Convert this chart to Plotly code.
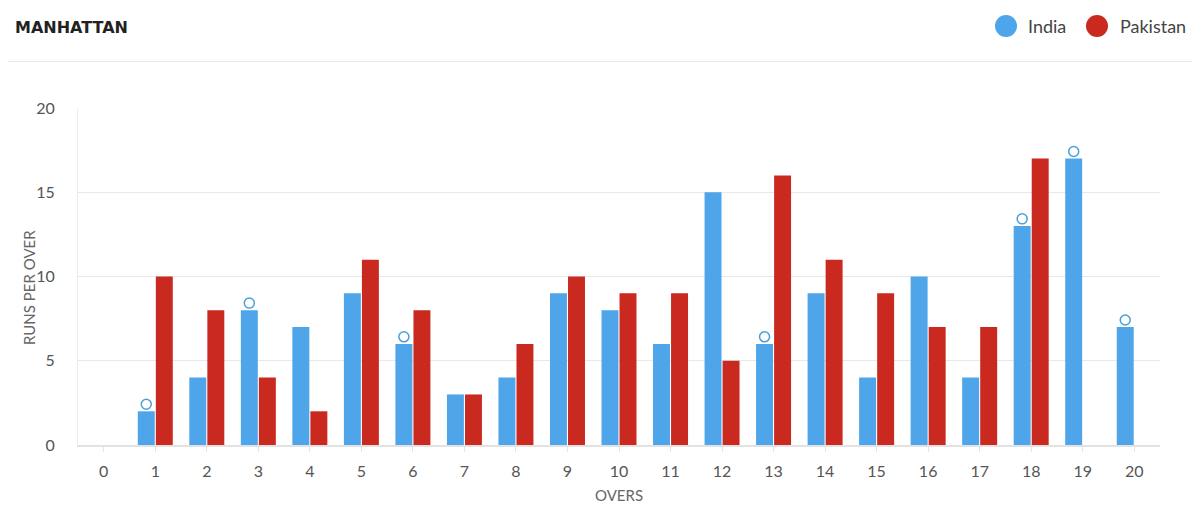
import plotly.graph_objects as go

overs = list(range(0, 21))
india_overs = list(range(1, 21))
india_runs = [2, 4, 8, 7, 9, 6, 3, 4, 9, 8, 6, 15, 6, 9, 4, 10, 4, 13, 17, 7]
pak_overs = list(range(1, 19))
pak_runs = [10, 8, 4, 2, 11, 8, 3, 6, 10, 9, 9, 5, 16, 11, 9, 7, 7, 17]
india_wicket_overs = [1, 3, 6, 13, 18, 19, 20]

BLUE = "#4ea5e9"
RED = "#c9291e"
FONT = "Lato, 'Open Sans', sans-serif"

# page has an 8px body margin; compensate
OFF = 8
W, H = 1200 - OFF, 517 - OFF
L, T = 78 - OFF, 108 - OFF
PW, PH = 1082, 337
R = W - L - PW
B = H - T - PH


def px(x):
    return (x - OFF - L) / PW


def py(y):
    return 1 - (y - OFF - T) / PH


bargap = 0.3
offset = (1 - bargap) / 4
w_x = [o - offset for o in india_wicket_overs]
w_y = [india_runs[india_overs.index(o)] + 0.42 for o in india_wicket_overs]

fig = go.Figure()
fig.add_trace(go.Bar(x=india_overs, y=india_runs, name="India",
                     marker=dict(color=BLUE, line=dict(width=0))))
fig.add_trace(go.Bar(x=pak_overs, y=pak_runs, name="Pakistan",
                     marker=dict(color=RED, line=dict(width=0))))
fig.add_trace(go.Scatter(x=w_x, y=w_y, mode="markers", showlegend=False,
                         marker=dict(symbol="circle-open", size=10,
                                     color="#4a9fd8", line=dict(width=1.5)),
                         hoverinfo="skip"))

fig.update_layout(
    width=W, height=H,
    margin=dict(l=L, r=R, t=T, b=B),
    paper_bgcolor="white", plot_bgcolor="white",
    barmode="group", bargap=bargap, bargroupgap=0.06,
    showlegend=False,
    font=dict(family=FONT, color="#555"),
    xaxis=dict(range=[-0.5, 20.5], tickmode="array", tickvals=overs,
               ticktext=[str(o) for o in overs],
               tickfont=dict(size=16, color="#555"),
               showgrid=False, zeroline=False,
               showline=True, linecolor="#e2e2e2", linewidth=1.5,
               ticks="outside", ticklen=5, tickcolor="#e6e6e6",
               ticklabelstandoff=6,
               title=dict(text="OVERS", font=dict(size=15, color="#666"), standoff=12)),
    yaxis=dict(range=[0, 20], tickvals=[0, 5, 10, 15, 20],
               tickfont=dict(size=16, color="#555"),
               showgrid=True, gridcolor="#e8e8e8", gridwidth=1,
               zeroline=False, showline=True, linecolor="#ececec", linewidth=1,
               ticks="outside", ticklen=19, tickcolor="white"),
    shapes=[
        dict(type="line", xref="paper", yref="paper", x0=px(0), x1=px(1200),
             y0=py(61.5), y1=py(61.5), line=dict(color="#e8e8e8", width=1)),
        dict(type="circle", xref="paper", yref="paper", xsizemode="pixel", ysizemode="pixel",
             xanchor=px(1006), yanchor=py(26),
             x0=-11, x1=11, y0=-11, y1=11, fillcolor=BLUE, line=dict(width=0)),
        dict(type="circle", xref="paper", yref="paper", xsizemode="pixel", ysizemode="pixel",
             xanchor=px(1097), yanchor=py(26),
             x0=-11, x1=11, y0=-11, y1=11, fillcolor=RED, line=dict(width=0)),
    ],
    annotations=[
        dict(text="<b>MANHATTAN</b>", xref="paper", yref="paper",
             x=px(13), y=py(27), xanchor="left", yanchor="middle",
             showarrow=False, font=dict(size=16, color="#222", family="'DejaVu Sans', sans-serif")),
        dict(text="India", xref="paper", yref="paper",
             x=px(1026), y=py(26), xanchor="left", yanchor="middle",
             showarrow=False, font=dict(size=18, color="#444", family=FONT)),
        dict(text="Pakistan", xref="paper", yref="paper",
             x=px(1118), y=py(26), xanchor="left", yanchor="middle",
             showarrow=False, font=dict(size=18, color="#444", family=FONT)),
        dict(text="RUNS PER OVER", xref="paper", yref="paper", textangle=-90,
             x=px(29), y=py(288), xanchor="center", yanchor="middle",
             showarrow=False, font=dict(size=15, color="#666", family=FONT)),
    ],
)

fig.write_html("out.html")
